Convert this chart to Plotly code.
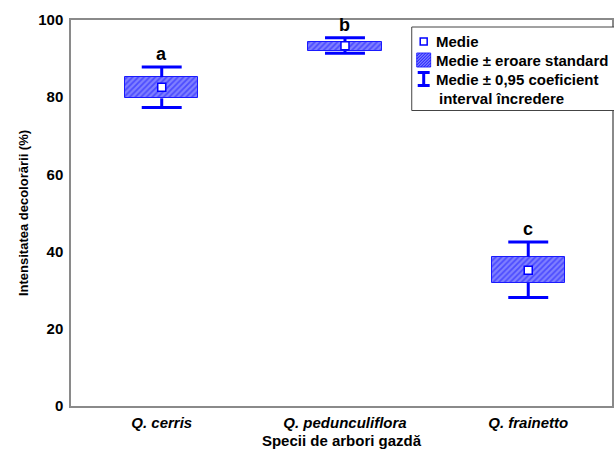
import plotly.graph_objects as go

species = ["Q. cerris", "Q. pedunculiflora", "Q. frainetto"]
means = [82.6, 93.3, 35.2]
se_low = [79.7, 92.0, 31.9]
se_high = [85.2, 94.2, 38.7]
ci_low = [77.3, 91.4, 28.1]
ci_high = [87.8, 95.4, 42.5]
letters = ["a", "b", "c"]
y_ticks = [0, 20, 40, 60, 80, 100]

BLUE = "#0000ff"
W, H = 614, 460
L, R, T, B = 71, 0, 20, 54
PW, PH = W - L - R, H - T - B

def px(xp):
    return (xp - L) / PW

def py(yp):
    return (H - B - yp) / PH

xs = list(range(len(species)))
fig = go.Figure()

# standard-error boxes (hatched)
fig.add_trace(go.Bar(
    x=xs, base=se_low, y=[h - l for h, l in zip(se_high, se_low)], width=0.40,
    marker=dict(color="#7c7cff", line=dict(color="#1a1aff", width=1),
                pattern=dict(shape="/", fgcolor="#1515ff", bgcolor="#8080ff", size=4, solidity=0.45)),
    showlegend=False, hoverinfo="skip"))

# confidence whiskers
cap = 0.109
wx, wy = [], []
for i in xs:
    wx += [i, i, None, i, i, None, i - cap, i + cap, None, i - cap, i + cap, None]
    wy += [se_high[i], ci_high[i], None, se_low[i], ci_low[i], None,
           ci_high[i], ci_high[i], None, ci_low[i], ci_low[i], None]
fig.add_trace(go.Scatter(x=wx, y=wy, mode="lines", line=dict(color=BLUE, width=3),
                         showlegend=False, hoverinfo="skip"))

# means
fig.add_trace(go.Scatter(x=xs, y=means, mode="markers",
                         marker=dict(symbol="square", size=8, color="white",
                                     line=dict(color=BLUE, width=1.5)),
                         showlegend=False))

annotations = []
for i in xs:
    annotations.append(dict(x=i, y=ci_high[i], xref="x", yref="y", text=f"<b>{letters[i]}</b>",
                            showarrow=False, yanchor="bottom", yshift=1,
                            font=dict(size=18, color="black", family="Liberation Sans, Arial")))

# manual legend
shapes = []
shapes.append(dict(type="rect", xref="paper", yref="paper", x0=px(413), x1=px(620), y0=py(110.5), y1=py(27),
                   line=dict(color="#444444", width=1), fillcolor="white", layer="above"))
# mean symbol
shapes.append(dict(type="rect", xref="paper", yref="paper", x0=px(421.5), x1=px(428.5), y0=py(45), y1=py(38),
                   line=dict(color=BLUE, width=1.5), fillcolor="white", layer="above"))
# hatched swatch
shapes.append(dict(type="rect", xref="paper", yref="paper", x0=px(418), x1=px(432), y0=py(67), y1=py(53),
                   line=dict(color="#3030ff", width=1), fillcolor="#7c7cff", layer="above"))
path = ""
for k in range(-11, 14, 3):
    xa, ya = 418 + k, 67
    xb, yb = 418 + k + 14, 53
    if xa < 418:
        ya = 67 - (418 - xa); xa = 418
    if xb > 432:
        yb = 53 + (xb - 432); xb = 432
    if xa < xb:
        path += f"M{px(xa)},{py(ya)} L{px(xb)},{py(yb)} "
shapes.append(dict(type="path", xref="paper", yref="paper", path=path,
                   line=dict(color="#1515ff", width=1), layer="above"))
# I-beam
shapes.append(dict(type="line", xref="paper", yref="paper", x0=px(425), x1=px(425), y0=py(86), y1=py(72),
                   line=dict(color=BLUE, width=3), layer="above"))
shapes.append(dict(type="line", xref="paper", yref="paper", x0=px(419), x1=px(431), y0=py(72.5), y1=py(72.5),
                   line=dict(color=BLUE, width=3), layer="above"))
shapes.append(dict(type="line", xref="paper", yref="paper", x0=px(419), x1=px(431), y0=py(85.5), y1=py(85.5),
                   line=dict(color=BLUE, width=3), layer="above"))

leg_font = dict(size=15, color="black", family="Liberation Sans, Arial")
for txt, xx, yy in [("Medie", 435, 41.5), ("Medie ± eroare standard", 435, 60),
                    ("Medie ± 0,95 coeficient", 435, 79.5), ("interval încredere", 438, 98.5)]:
    annotations.append(dict(x=px(xx), y=py(yy), xref="paper", yref="paper", text=f"<b>{txt}</b>",
                            showarrow=False, xanchor="left", yanchor="middle", font=leg_font))

fig.update_layout(
    width=W, height=H, margin=dict(l=L, r=R, t=T, b=B, pad=0),
    paper_bgcolor="white", plot_bgcolor="white",
    font=dict(family="Liberation Sans, Arial", color="black"),
    shapes=shapes, annotations=annotations, bargap=0,
    xaxis=dict(range=[-0.495, 2.457], tickvals=xs, ticktext=[f"<b><i>{s}</i></b>" for s in species],
               tickfont=dict(size=15), showgrid=False, zeroline=False, ticks="", ticklabelstandoff=2,
               showline=True, linecolor="#8a8a8a", linewidth=1.5, mirror=True,
               title=dict(text="<b>Specii de arbori gazdă</b>", font=dict(size=15), standoff=6)),
    yaxis=dict(range=[0, 100], tickvals=y_ticks, ticktext=[f"<b>{v}</b>" for v in y_ticks],
               tickfont=dict(size=15), showgrid=False, zeroline=False, ticks="", ticklabelstandoff=3,
               showline=True, linecolor="#8a8a8a", linewidth=1.5, mirror=True,
               title=dict(text="<b>Intensitatea decolorării (%)</b>", font=dict(size=13), standoff=7)),
)

fig.write_html("out.html")
